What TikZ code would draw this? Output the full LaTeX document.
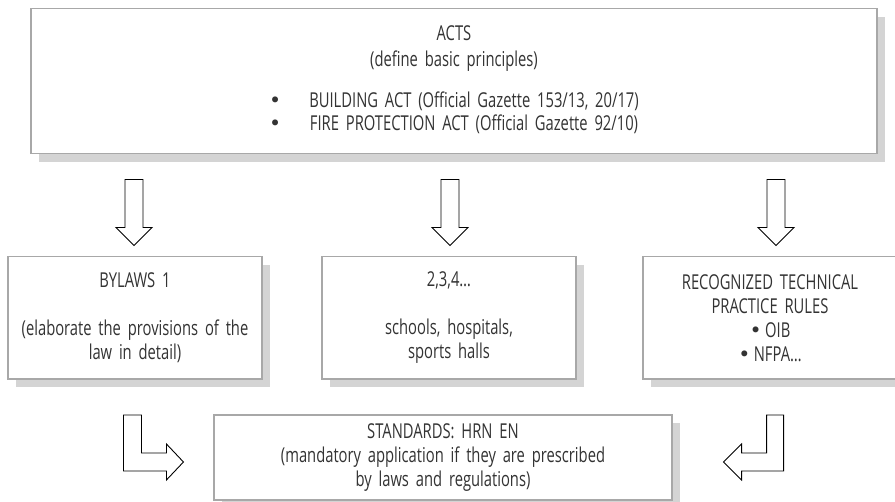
\documentclass[tikz,border=0pt]{standalone}
\usepackage{fontspec}
\setmainfont{Open Sans}[FakeStretch=0.72]
\newfontfamily\bulfont{DejaVu Sans}
\usepackage{tikz}
\usetikzlibrary{shadows}
\usetikzlibrary{calc}
\definecolor{txtgray}{HTML}{333333}
\definecolor{boxgray}{HTML}{A8A8A8}
\renewcommand{\arraystretch}{0.96}
\newcommand{\bul}{{\bulfont •}}
\tikzstyle{rulebox}=[rectangle,draw=boxgray,line width=1.1pt,fill=white,inner sep=0pt,align=center,
    text=txtgray,font=\fontsize{20.5}{24}\selectfont,
    drop shadow={shadow xshift=8pt,shadow yshift=-8pt,fill=black!17,opacity=1}]
\tikzstyle{hollowarrow}=[draw=black,line width=0.9pt,fill=white,line join=miter]

\begin{document}
\begin{tikzpicture}[x=1pt,y=1pt]
    \clip (0,0) rectangle (895,502);

    \node[rulebox,text width=846pt,minimum height=145pt] (acts) at (454,420.6)
        {ACTS\\[2pt]
         (define basic principles)\\[19pt]
         \begin{tabular}{@{}c@{\hspace{28pt}}c@{}}
         \bul & BUILDING ACT (Official Gazette 153/13, 20/17)\\
         \bul & FIRE PROTECTION ACT (Official Gazette 92/10)
         \end{tabular}};

    \node[rulebox,text width=254pt,minimum height=122.5pt] (bylaws) at (135,184.2)
        {BYLAWS 1\\[24pt](elaborate the provisions of the\\law in detail)};
    \node[rulebox,text width=254pt,minimum height=122.5pt] (schools) at (449,184.2)
        {2,3,4…\\[24pt]schools, hospitals,\\sports halls};
    \node[rulebox,text width=254pt,minimum height=122.5pt] (rules) at (770,184.2)
        {RECOGNIZED TECHNICAL\\PRACTICE RULES\\\bul\,OIB\\\bul\,NFPA…};

    \node[rulebox,text width=458pt,minimum height=85pt] (standards) at (443,44.5)
        {STANDARDS: HRN EN\\(mandatory application if they are prescribed\\by laws and regulations)};

    % hollow arrows from the acts down to each group
    \foreach \name/\dx in {bylaws/-1, schools/1, rules/6}
        \draw[hollowarrow] ($(\name.north)+(\dx,10.5)$) -- ++(18,18) -- ++(-9,0) -- ++(0,48)
            -- ++(-18,0) -- ++(0,-48) -- ++(-9,0) -- cycle;

    % bent arrows into the standards
    \draw[hollowarrow] ($(standards.west)+(-30,-4.5)$) -- ++(-17,18) -- ++(0,-9) -- ++(-25,0)
        -- ++(0,38) -- ++(-18,0) -- ++(0,-56) -- ++(43,0) -- ++(0,-9) -- cycle;
    \draw[hollowarrow] ($(standards.east)+(51,-4.5)$) -- ++(18,18) -- ++(0,-9) -- ++(25,0)
        -- ++(0,38) -- ++(17,0) -- ++(0,-56) -- ++(-42,0) -- ++(0,-9) -- cycle;

\end{tikzpicture}
\end{document}
